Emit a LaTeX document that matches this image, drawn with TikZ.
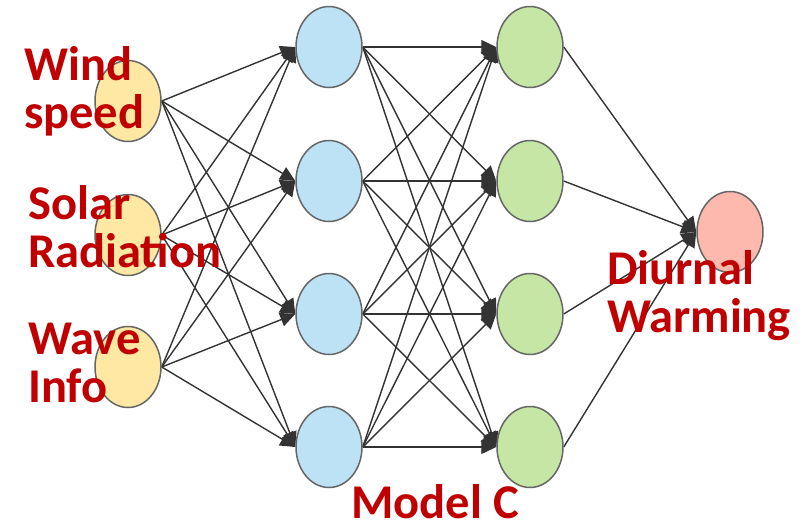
\documentclass[tikz,border=0pt]{standalone}
\usepackage{fontspec}
\setmainfont{Carlito}
\usetikzlibrary{arrows.meta,shapes.geometric,backgrounds}
\definecolor{inY}{HTML}{FFE8A3}
\definecolor{hidB}{HTML}{BDE1F5}
\definecolor{hidG}{HTML}{C6E6A6}
\definecolor{outP}{HTML}{FDB9AE}
\definecolor{rim}{HTML}{666666}
\definecolor{wire}{HTML}{333333}
\definecolor{lab}{HTML}{C00000}
\begin{document}
\begin{tikzpicture}[x=1pt,y=-1pt,
  neuron/.style={ellipse,draw=rim,line width=1.5pt,minimum width=66pt,minimum height=81pt,inner sep=0pt},
  conn/.style={draw=wire,line width=1.4pt,-{Triangle[length=15pt,width=14pt]}},
  lbl/.style={text=lab,font=\fontsize{48.5}{48}\selectfont\bfseries,inner sep=0pt,anchor=base west},
  lbltwo/.style={lbl,align=left}]
\useasboundingbox (0,0) rectangle (807,528);
% input layer
\node[neuron,fill=inY] (i1) at (128,101) {};
\node[neuron,fill=inY] (i2) at (128,235) {};
\node[neuron,fill=inY] (i3) at (128,367) {};
% hidden layers
\foreach \j/\y in {1/47,2/181,3/314,4/447}{
  \node[neuron,fill=hidB] (h\j) at (329,\y) {};
  \node[neuron,fill=hidG] (g\j) at (530,\y) {};
}
% output
\node[neuron,fill=outP] (o) at (730,232) {};
\begin{scope}[on background layer]
  \foreach \i in {1,2,3}{\foreach \j in {1,2,3,4}{\draw[conn] (i\i.east) -- (h\j.west);}}
  \foreach \i in {1,2,3,4}{\foreach \j in {1,2,3,4}{\draw[conn] (h\i.east) -- (g\j.west);}}
  \foreach \i in {1,2,3,4}{\draw[conn] (g\i.east) -- (o.west);}
\end{scope}
% labels (anchor at baseline of last line)
\node[lbltwo] (lw) at (24,128) {Wind\\speed};
\node[lbltwo] (ls) at (28,267) {Solar\\Radiation};
\node[lbltwo] (lv) at (28,402) {Wave\\Info};
\node[lbltwo] (ld) at (607,332) {Diurnal\\Warming};
\node[lbl] (lm) at (351,518) {Model C};
\end{tikzpicture}
\end{document}
